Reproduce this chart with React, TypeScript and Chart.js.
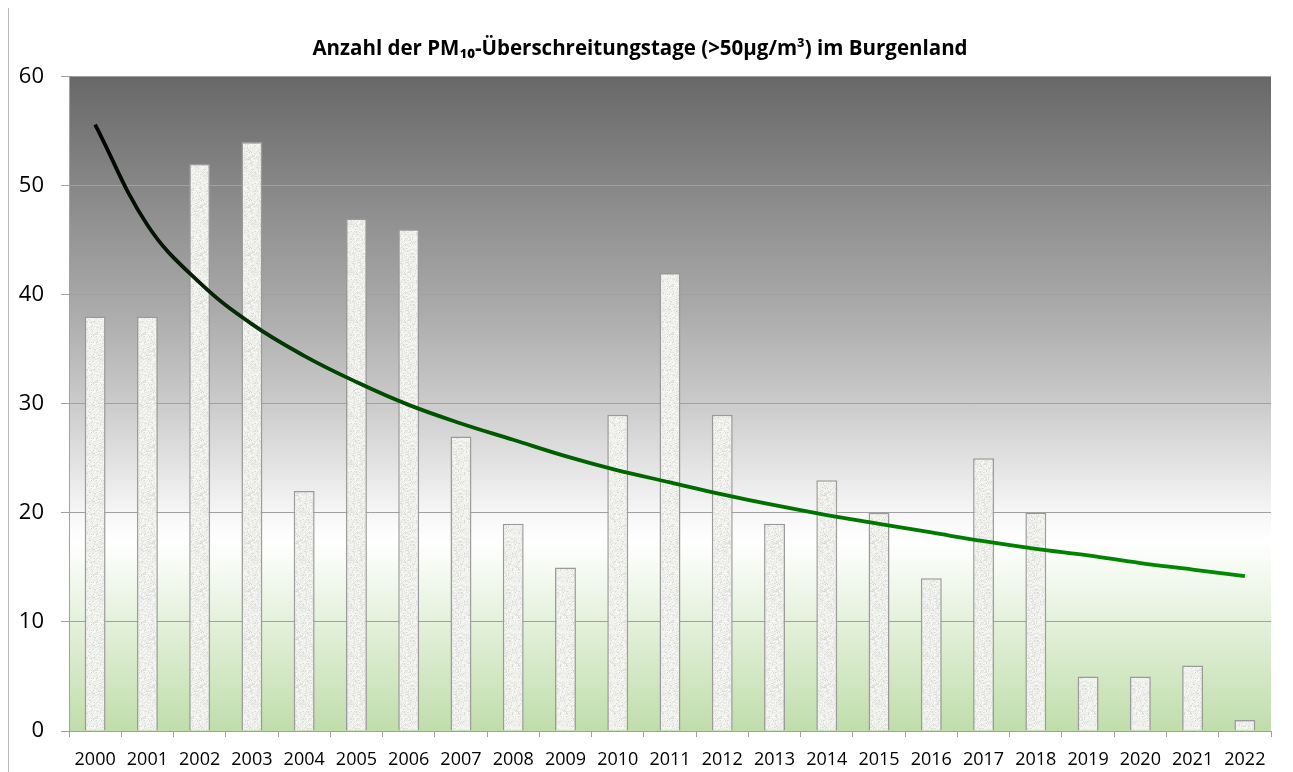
import React, { useEffect, useRef } from "react";
import { Chart, registerables } from "chart.js";

Chart.register(...registerables);

const years: string[] = [
  "2000", "2001", "2002", "2003", "2004", "2005", "2006", "2007", "2008", "2009", "2010", "2011",
  "2012", "2013", "2014", "2015", "2016", "2017", "2018", "2019", "2020", "2021", "2022",
];

const exceedanceDays: number[] = [
  38, 38, 52, 54, 22, 47, 46, 27, 19, 15, 29, 42, 29, 19, 23, 20, 14, 25, 20, 5, 5, 6, 1,
];

const trendValues: number[] = [
  55.6, 46.4, 41.1, 37.3, 34.4, 32.0, 29.9, 28.2, 26.7, 25.2, 23.9, 22.8,
  21.7, 20.7, 19.8, 19.0, 18.2, 17.4, 16.7, 16.1, 15.4, 14.8, 14.2,
];

const yTicks: number[] = [0, 10, 20, 30, 40, 50, 60];

const titleText = "Anzahl der PM\u2081\u2080-Überschreitungstage (>50µg/m³) im Burgenland";

function makeTexture(): CanvasPattern | string {
  const c = document.createElement("canvas");
  c.width = 48;
  c.height = 48;
  const g = c.getContext("2d");
  if (!g) return "#efefeb";
  g.fillStyle = "#f0f0ec";
  g.fillRect(0, 0, 48, 48);
  for (let y = 0; y < 48; y++) {
    for (let x = 0; x < 48; x++) {
      const h = Math.abs(Math.sin(x * 12.9898 + y * 78.233) * 43758.5453) % 1;
      if (h < 0.28) {
        const v = 215 + Math.floor(h * 80);
        g.fillStyle = `rgb(${v},${v},${v - 3})`;
        g.fillRect(x, y, 1, 1);
      } else if (h > 0.85) {
        g.fillStyle = "#fafaf8";
        g.fillRect(x, y, 1, 1);
      }
    }
  }
  const p = g.createPattern(c, "repeat");
  return p || "#efefeb";
}

const plotBackground = {
  id: "plotBackground",
  beforeDraw(chart: any) {
    const { ctx, chartArea } = chart;
    if (!chartArea) return;
    const { left, top, right, bottom } = chartArea;
    const grad = ctx.createLinearGradient(0, top, 0, bottom);
    grad.addColorStop(0, "#686868");
    grad.addColorStop(0.35, "#a9a9a9");
    grad.addColorStop(0.5, "#cbcbcb");
    grad.addColorStop(0.67, "#f7f7f7");
    grad.addColorStop(0.71, "#ffffff");
    grad.addColorStop(1, "#c0ddab");
    ctx.save();
    ctx.fillStyle = grad;
    ctx.fillRect(left, top, right - left, bottom - top);
    ctx.restore();
  },
};

export default function App() {
  const ref = useRef<HTMLCanvasElement | null>(null);

  useEffect(() => {
    if (!ref.current) return;
    const texture = makeTexture();
    const chart = new Chart(ref.current, {
      type: "bar",
      data: {
        labels: years,
        datasets: [
          {
            type: "bar",
            label: "Überschreitungstage",
            data: exceedanceDays,
            backgroundColor: texture as any,
            borderColor: "#9a9a9a",
            borderWidth: 1.5,
            barPercentage: 0.4,
            categoryPercentage: 1,
            order: 2,
          },
          {
            type: "line",
            label: "Trend",
            data: trendValues,
            borderWidth: 3.8,
            pointRadius: 0,
            tension: 0.4,
            fill: false,
            order: 1,
            borderColor: (context: any) => {
              const c = context.chart;
              const area = c.chartArea;
              if (!area) return "#000000";
              const ys = c.scales.y;
              const g = c.ctx.createLinearGradient(0, ys.getPixelForValue(56), 0, ys.getPixelForValue(14));
              g.addColorStop(0, "#000000");
              g.addColorStop(0.35, "#081c08");
              g.addColorStop(0.6, "#004d00");
              g.addColorStop(0.8, "#006a00");
              g.addColorStop(1, "#008c00");
              return g;
            },
          } as any,
        ],
      },
      options: {
        responsive: false,
        animation: false,
        layout: { padding: { left: 0, right: 18, top: 0, bottom: 0 } },
        plugins: {
          legend: { display: false },
          tooltip: { enabled: false },
          title: {
            display: true,
            text: titleText,
            color: "#000000",
            font: { family: "'Open Sans', sans-serif", size: 20.5, weight: "bold" },
            padding: { top: 29, bottom: 15 },
          },
        },
        scales: {
          x: {
            grid: {
              display: true,
              offset: true,
              drawOnChartArea: false,
              drawTicks: true,
              tickLength: 6,
              color: "#a0a0a0",
            },
            border: { display: true, color: "#a0a0a0", width: 1 },
            ticks: {
              color: "#000000",
              font: { family: "'Open Sans', sans-serif", size: 18 },
              padding: 12,
              maxRotation: 0,
              autoSkip: false,
            },
            afterFit: (scale: any) => {
              scale.height = 41;
            },
          },
          y: {
            min: 0,
            max: 60,
            afterBuildTicks: (scale: any) => {
              scale.ticks = yTicks.map((v) => ({ value: v }));
            },
            grid: {
              display: true,
              color: "#a0a0a0",
              lineWidth: 1,
              drawTicks: true,
              tickLength: 8,
            },
            border: { display: true, color: "#a0a0a0", width: 1 },
            ticks: {
              color: "#000000",
              font: { family: "'Open Sans', sans-serif", size: 22 },
              padding: 17,
            },
            afterFit: (scale: any) => {
              scale.width = 60;
            },
          },
        },
      },
      plugins: [plotBackground],
    });
    return () => chart.destroy();
  }, []);

  return (
    <div
      style={{
        width: 1280,
        height: 764,
        marginTop: -1,
        borderTop: "1px solid #b8b8b8",
        borderLeft: "1px solid #b8b8b8",
        borderRight: "1px solid #b8b8b8",
        background: "#ffffff",
      }}
    >
      <canvas ref={ref} width={1280} height={764} style={{ display: "block" }} />
    </div>
  );
}
